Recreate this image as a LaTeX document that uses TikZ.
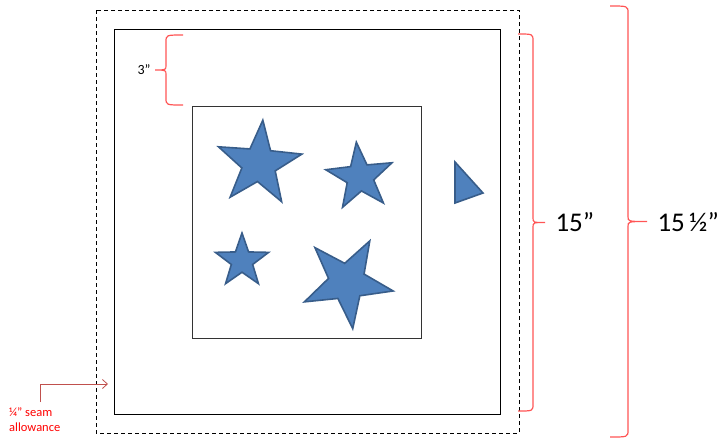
\documentclass[tikz,border=0pt]{standalone}
\usepackage{fontspec}
\setmainfont{Carlito}
\usetikzlibrary{shapes.geometric,arrows.meta}
\definecolor{starblue}{RGB}{79,129,189}
\definecolor{starline}{RGB}{56,93,138}
\definecolor{bracered}{RGB}{255,85,85}
\definecolor{arrowred}{RGB}{192,80,77}

\tikzset{
  patch/.style={star, star points=5, star point ratio=2.5, inner sep=0pt, fill=starblue, draw=starline, line width=1.6pt},
  measure/.style={draw=bracered, line width=1.2pt},
}
% brace: end x, line x, tip x, top y, bottom y
\newcommand{\sizebrace}[5]{%
  \draw[measure] (#1,#4) .. controls (#2,#4) .. (#2,{#4+7}) -- (#2,{(#4+#5)/2-5})
    .. controls (#2,{(#4+#5)/2}) .. (#3,{(#4+#5)/2})
    .. controls (#2,{(#4+#5)/2}) .. (#2,{(#4+#5)/2+5}) -- (#2,{#5-7})
    .. controls (#2,#5) .. (#1,#5);}

\begin{document}
\begin{tikzpicture}[x=1pt, y=-1pt]
	\useasboundingbox (0,0) rectangle (720,440);
	\draw[line width=0.9pt, dash pattern=on 4pt off 3pt] (96,10) rectangle (519,433);
	\draw[line width=1pt] (114,29) rectangle (500,414);
	\draw[line width=0.9pt, black!80] (192,106) rectangle (421,338);

	\node[patch, minimum size=88, rotate=-5] (bigstar) at (259,164) {};
	\node[patch, minimum size=70, rotate=6] (rightstar) at (360,177) {};
	\node[patch, minimum size=56] (smallstar) at (242,261) {};
	\node[patch, minimum size=94, rotate=-29] (lowstar) at (347,282) {};
	\draw[fill=starblue, draw=starline, line width=1.6pt] (455,162) -- (483,193) -- (455,203) -- cycle;

	\sizebrace{183}{166}{155}{35}{105}
	\sizebrace{518}{533}{545}{34}{411}
	\sizebrace{610}{628}{647}{6}{437}

	\node[anchor=east, font=\fontsize{14}{16}\selectfont] (topgap) at (154,70) {3”};
	\node[anchor=west, font=\fontsize{27}{30}\selectfont] (finished) at (552,222) {15”};
	\node[anchor=west, font=\fontsize{27}{30}\selectfont] (cut) at (654,222) {15\,½”};

	\coordinate (seamstart) at (40,402);
	\coordinate (seamend) at (108,384);
	\draw[arrowred, line width=0.8pt, -{Straight Barb[length=5pt,width=9pt]}] (seamstart) |- (seamend);
	\node[anchor=north west, align=left, inner sep=0pt, text=red, font=\fontsize{12.5}{15}\selectfont] (seamlabel) at (9,407) {¼” seam\\allowance};
\end{tikzpicture}
\end{document}
